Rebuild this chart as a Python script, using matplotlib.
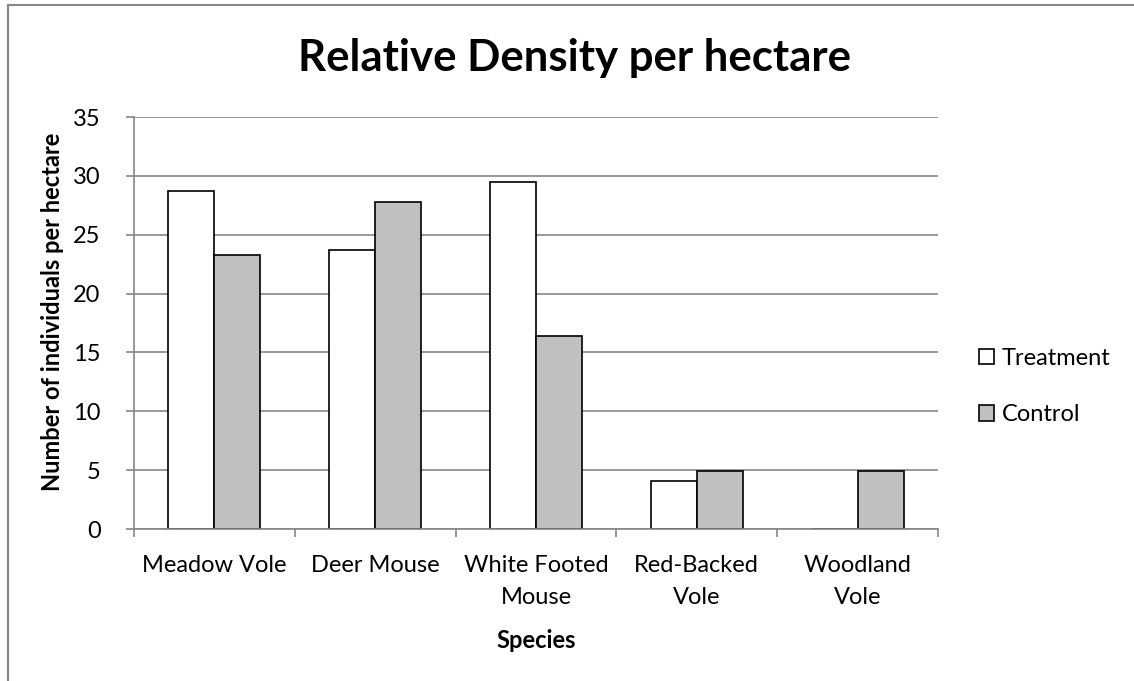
import matplotlib
matplotlib.use("Agg")
import matplotlib.pyplot as plt
from matplotlib.patches import Patch
from matplotlib.lines import Line2D
import numpy as np

plt.rcParams['font.family'] = ['Lato', 'DejaVu Sans']

species = ["Meadow Vole", "Deer Mouse", "White Footed\nMouse", "Red-Backed\nVole", "Woodland\nVole"]
treatment = [28.7, 23.7, 29.5, 4.1, 0.0]
control = [23.3, 27.8, 16.4, 4.9, 4.9]
y_ticks = [0, 5, 10, 15, 20, 25, 30, 35]

W, H = 1134, 681
fig = plt.figure(figsize=(W / 100, H / 100), dpi=100)
fig.patch.set_facecolor("white")

# chart border (top and left edges visible)
fig.add_artist(Line2D([7.5 / W, 7.5 / W], [0, 1 - 4.5 / H], transform=fig.transFigure,
                      color="#868686", lw=1.5))
fig.add_artist(Line2D([7.5 / W, 1], [1 - 4.5 / H, 1 - 4.5 / H], transform=fig.transFigure,
                      color="#868686", lw=1.5))

left, right, top, bottom = 134, 938, 117, 529
ax = fig.add_axes([left / W, 1 - bottom / H, (right - left) / W, (bottom - top) / H])

x = np.arange(len(species))
bw = 0.286
ax.bar(x - bw / 2, treatment, width=bw, color="white", edgecolor="black", linewidth=1.2,
       label="Treatment", zorder=3)
ax.bar(x + bw / 2, control, width=bw, color="#C0C0C0", edgecolor="black", linewidth=1.2,
       label="Control", zorder=3)

ax.set_xlim(-0.5, len(species) - 0.5)
ax.set_ylim(0, 35)
ax.set_yticks(y_ticks)
ax.set_yticklabels([str(v) for v in y_ticks])
ax.yaxis.grid(True, color="#868686", linewidth=1.2, zorder=0)
ax.set_axisbelow(True)

for s in ["top", "right"]:
    ax.spines[s].set_visible(False)
for s in ["left", "bottom"]:
    ax.spines[s].set_color("#868686")
    ax.spines[s].set_linewidth(1.2)
    ax.spines[s].set_zorder(4)

ax.tick_params(axis="y", direction="out", length=6, width=1.2, color="#868686",
               labelsize=17, pad=18)
ax.set_xticks(x)
ax.set_xticklabels(species, fontsize=17, linespacing=1.6)
ax.set_xticks(np.arange(-0.5, len(species)), minor=True)
ax.tick_params(axis="x", which="major", length=0, pad=19)
ax.tick_params(axis="x", which="minor", direction="out", length=6, width=1.2, color="#868686")

ax.set_xlabel("Species", fontsize=17, fontweight="bold")
ax.xaxis.set_label_coords(0.5, (bottom - 640) / (bottom - top))
ax.xaxis.label.set_va("center")
ax.set_ylabel("Number of individuals per hectare", fontsize=17, fontweight="bold")
ax.yaxis.set_label_coords((52 - left) / (right - left), (bottom - 312) / (bottom - top))
ax.yaxis.label.set_va("center")

fig.text(575 / W, 1 - 71 / H, "Relative Density per hectare", ha="center", va="baseline",
         fontsize=31.5, fontweight="bold")

handles = [Patch(facecolor="white", edgecolor="black", linewidth=1.2, label="Treatment"),
           Patch(facecolor="#C0C0C0", edgecolor="black", linewidth=1.2, label="Control")]
fig.legend(handles=handles, loc="center left", bbox_to_anchor=(979 / W, 1 - 386.5 / H),
           frameon=False, fontsize=17, handlelength=0.65, handleheight=0.65,
           handletextpad=0.3, labelspacing=1.5, borderpad=0, borderaxespad=0)

fig.savefig("out.png", dpi=100, facecolor="white")
